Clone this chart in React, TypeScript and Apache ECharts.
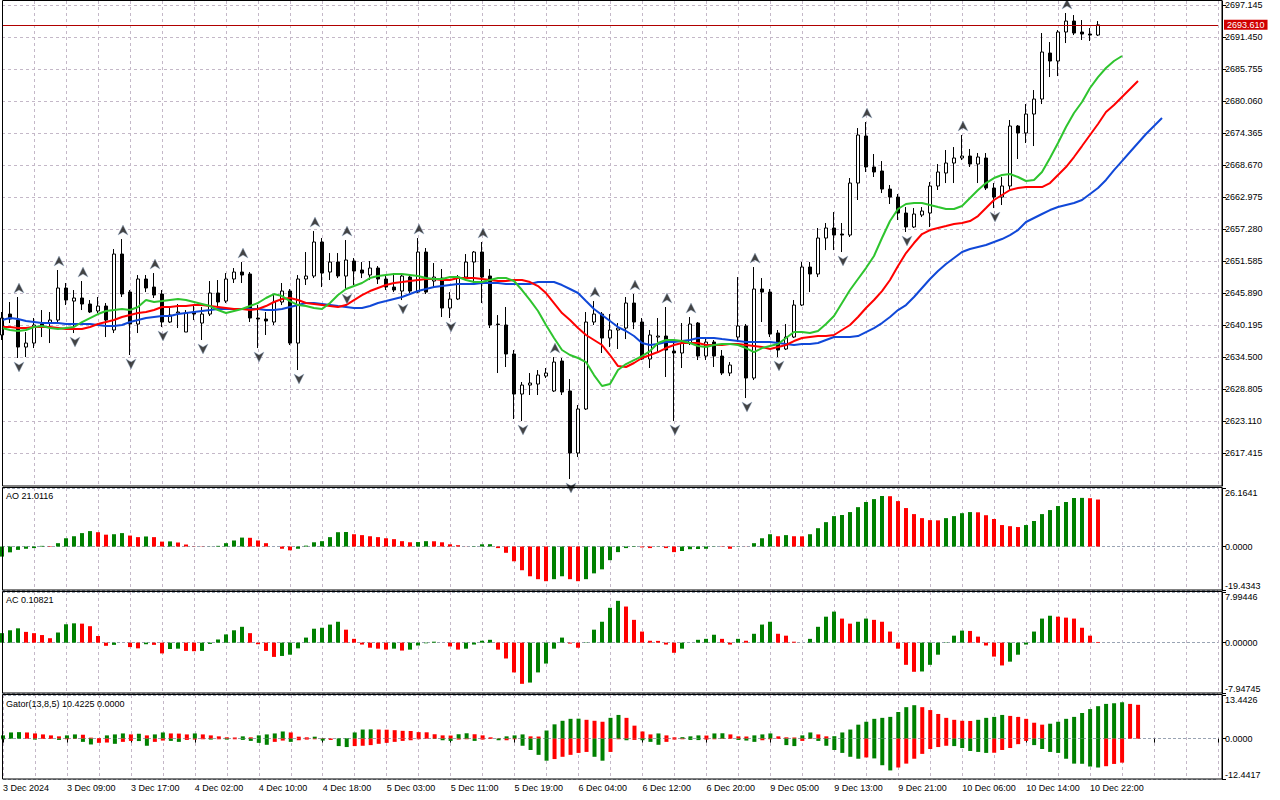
import React, { useEffect, useRef } from 'react';
import * as echarts from 'echarts';

// ---------- data ----------
const sessionDays = ['3 Dec', '4 Dec', '5 Dec', '6 Dec', '9 Dec', '10 Dec'];
const futureSlots = 15;
const xTickLabels = ['3 Dec 2024', '3 Dec 09:00', '3 Dec 17:00', '4 Dec 02:00', '4 Dec 10:00', '4 Dec 18:00', '5 Dec 03:00', '5 Dec 11:00', '5 Dec 19:00', '6 Dec 04:00', '6 Dec 12:00', '6 Dec 20:00', '9 Dec 05:00', '9 Dec 13:00', '9 Dec 21:00', '10 Dec 06:00', '10 Dec 14:00', '10 Dec 22:00'];
const priceTicks = [2617.415, 2623.11, 2628.805, 2634.5, 2640.195, 2645.89, 2651.585, 2657.28, 2662.975, 2668.67, 2674.365, 2680.06, 2685.755, 2691.45, 2697.145];
const lastPrice = 2693.61;

const opens = [2638.45, 2642.18, 2641.11, 2636.31, 2637.02, 2640.40, 2640.58, 2641.11, 2646.81, 2644.49,
  2645.03, 2643.96, 2642.72, 2643.60, 2639.34, 2652.85, 2646.09, 2640.40, 2648.41, 2646.98,
  2645.74, 2640.76, 2642.36, 2638.98, 2642.54, 2640.58, 2642.18, 2645.92, 2644.49, 2648.41,
  2649.65, 2649.30, 2641.47, 2641.29, 2640.76, 2644.32, 2646.27, 2637.02, 2648.41, 2648.94,
  2654.99, 2649.65, 2651.43, 2648.94, 2651.61, 2650.01, 2649.12, 2650.36, 2648.41, 2646.98,
  2646.27, 2648.76, 2646.09, 2653.21, 2648.05, 2648.58, 2643.25, 2644.85, 2648.76, 2651.43,
  2653.21, 2648.94, 2640.40, 2640.23, 2635.07, 2627.95, 2629.55, 2629.73, 2631.15, 2628.49,
  2633.82, 2628.49, 2617.46, 2625.29, 2640.76, 2642.18, 2637.91, 2639.34, 2639.69, 2644.14,
  2640.76, 2634.18, 2638.09, 2638.27, 2635.60, 2635.25, 2637.02, 2640.58, 2634.71, 2637.20,
  2634.71, 2631.69, 2638.09, 2640.05, 2630.80, 2646.63, 2646.09, 2638.80, 2635.96, 2638.09,
  2643.78, 2650.54, 2649.30, 2655.70, 2657.48, 2656.41, 2656.23, 2665.48, 2673.84, 2668.33,
  2667.62, 2664.41, 2662.99, 2660.15, 2657.66, 2659.79, 2660.15, 2664.95, 2667.26, 2669.04,
  2669.93, 2670.28, 2668.86, 2669.93, 2664.59, 2662.99, 2664.95, 2675.62, 2674.38, 2677.75,
  2680.42, 2688.60, 2687.18, 2692.34, 2694.29, 2692.34, 2691.98, 2691.80];

const closes = [2641.47, 2641.29, 2636.31, 2637.02, 2640.23, 2639.87, 2641.11, 2646.81, 2644.67, 2645.03,
  2643.96, 2642.54, 2643.60, 2641.11, 2652.85, 2645.74, 2640.40, 2648.41, 2646.81, 2645.56,
  2640.76, 2642.00, 2642.54, 2642.36, 2642.18, 2642.18, 2645.92, 2644.32, 2648.41, 2649.65,
  2649.12, 2641.47, 2641.29, 2640.94, 2644.32, 2646.27, 2637.02, 2648.41, 2648.94, 2654.99,
  2649.47, 2651.43, 2648.94, 2651.79, 2649.83, 2649.47, 2650.36, 2648.41, 2646.98, 2646.45,
  2648.94, 2646.27, 2653.21, 2646.09, 2648.76, 2643.25, 2644.85, 2648.76, 2651.43, 2653.21,
  2648.76, 2640.23, 2640.30, 2635.07, 2627.95, 2629.55, 2629.91, 2631.33, 2631.69, 2633.64,
  2628.31, 2617.46, 2625.29, 2640.76, 2642.18, 2637.91, 2639.34, 2639.69, 2644.14, 2640.76,
  2634.18, 2638.45, 2638.27, 2635.78, 2635.25, 2637.02, 2640.40, 2634.71, 2637.20, 2634.71,
  2631.69, 2633.11, 2640.05, 2630.80, 2646.63, 2646.09, 2638.62, 2635.78, 2638.09, 2643.78,
  2650.54, 2649.30, 2655.70, 2657.48, 2656.23, 2656.23, 2665.48, 2674.02, 2668.33, 2667.44,
  2664.41, 2662.99, 2660.15, 2657.66, 2659.97, 2660.50, 2664.95, 2667.44, 2669.04, 2669.93,
  2670.28, 2668.86, 2670.11, 2664.59, 2662.99, 2664.95, 2675.62, 2674.38, 2677.75, 2680.42,
  2688.78, 2687.18, 2692.34, 2694.29, 2692.16, 2691.98, 2691.80, 2693.61];

const highs = [2642.54, 2644.32, 2645.21, 2638.98, 2641.47, 2642.89, 2642.54, 2650.01, 2647.70, 2646.45,
  2648.05, 2644.67, 2645.21, 2644.14, 2653.74, 2655.52, 2646.45, 2649.12, 2649.12, 2649.47,
  2646.45, 2643.43, 2643.96, 2642.89, 2643.78, 2643.43, 2648.05, 2648.23, 2649.47, 2650.36,
  2651.43, 2649.65, 2643.78, 2642.54, 2645.56, 2647.70, 2646.63, 2649.12, 2653.21, 2656.94,
  2655.70, 2653.03, 2653.03, 2655.34, 2652.14, 2651.43, 2651.61, 2650.72, 2648.94, 2649.47,
  2649.47, 2649.12, 2655.70, 2653.92, 2651.25, 2650.19, 2646.09, 2649.12, 2652.85, 2653.39,
  2654.99, 2650.19, 2642.00, 2643.43, 2635.78, 2630.09, 2631.69, 2632.22, 2632.58, 2634.53,
  2634.36, 2630.62, 2626.00, 2642.54, 2644.49, 2642.54, 2642.18, 2640.58, 2645.21, 2645.74,
  2641.47, 2639.34, 2641.47, 2643.43, 2637.56, 2640.58, 2641.65, 2640.76, 2638.09, 2637.56,
  2635.78, 2633.64, 2648.76, 2640.40, 2650.54, 2648.58, 2646.63, 2639.34, 2640.40, 2644.67,
  2651.43, 2651.43, 2657.48, 2658.37, 2660.32, 2658.37, 2666.37, 2675.26, 2676.33, 2670.64,
  2669.39, 2665.13, 2663.53, 2661.21, 2661.03, 2661.21, 2665.66, 2668.86, 2671.35, 2671.88,
  2674.02, 2671.53, 2670.82, 2670.82, 2665.48, 2666.55, 2676.69, 2675.80, 2679.53, 2682.02,
  2692.16, 2690.56, 2692.69, 2695.72, 2695.36, 2694.47, 2693.05, 2694.29];

const lows = [2637.56, 2640.58, 2634.36, 2634.53, 2636.13, 2638.09, 2637.02, 2640.76, 2643.78, 2638.80,
  2642.89, 2642.36, 2642.36, 2638.09, 2638.80, 2645.21, 2634.89, 2638.80, 2646.09, 2645.03,
  2639.87, 2640.58, 2639.69, 2638.98, 2641.11, 2637.56, 2641.83, 2643.60, 2644.14, 2647.70,
  2647.70, 2640.76, 2636.13, 2638.45, 2640.23, 2643.78, 2636.67, 2632.22, 2647.34, 2648.58,
  2646.98, 2648.23, 2648.58, 2646.45, 2647.34, 2648.58, 2648.23, 2647.52, 2646.45, 2646.09,
  2644.67, 2645.92, 2645.92, 2645.74, 2646.81, 2641.65, 2641.47, 2644.67, 2648.58, 2647.34,
  2644.14, 2639.69, 2631.69, 2632.76, 2623.51, 2623.15, 2627.78, 2627.78, 2630.80, 2628.31,
  2627.78, 2612.84, 2616.75, 2625.11, 2640.23, 2635.25, 2636.31, 2635.96, 2637.73, 2639.51,
  2634.00, 2632.58, 2635.25, 2630.98, 2623.15, 2632.58, 2636.67, 2634.00, 2634.00, 2632.76,
  2631.33, 2631.15, 2637.20, 2627.24, 2630.44, 2640.76, 2638.09, 2634.53, 2635.78, 2637.91,
  2643.60, 2646.09, 2648.76, 2653.56, 2653.56, 2653.21, 2655.88, 2662.46, 2667.44, 2666.55,
  2663.70, 2661.75, 2658.90, 2656.77, 2657.48, 2659.43, 2657.66, 2664.24, 2665.48, 2665.48,
  2669.57, 2668.33, 2665.48, 2664.24, 2661.03, 2661.57, 2664.24, 2669.75, 2672.60, 2672.06,
  2679.53, 2684.33, 2684.51, 2690.38, 2691.80, 2690.92, 2690.74, 2691.63];

// Alligator lines as displayed (already shifted forward: jaw 8, teeth 5, lips 3)
const jaw = [2641.11, 2641.47, 2641.29, 2640.94, 2640.76, 2640.58, 2640.58, 2640.58, 2640.40, 2640.40,
  2640.40, 2640.40, 2640.23, 2640.05, 2640.05, 2640.23, 2640.76, 2641.11, 2641.47, 2641.65,
  2641.83, 2641.83, 2642.18, 2642.36, 2642.54, 2642.72, 2642.89, 2643.07, 2643.07, 2643.07,
  2643.07, 2643.07, 2643.07, 2642.89, 2642.89, 2643.07, 2643.43, 2643.78, 2644.14, 2644.14,
  2643.96, 2643.78, 2643.60, 2643.43, 2643.25, 2643.25, 2643.60, 2644.14, 2644.49, 2644.85,
  2645.21, 2645.74, 2646.27, 2646.63, 2646.98, 2647.16, 2647.34, 2647.52, 2647.52, 2647.52,
  2647.70, 2647.70, 2647.70, 2647.52, 2647.52, 2647.52, 2647.52, 2647.87, 2647.87, 2647.87,
  2647.34, 2646.63, 2645.92, 2644.49, 2643.07, 2642.00, 2640.94, 2639.87, 2639.16, 2638.27,
  2637.02, 2636.67, 2636.85, 2637.20, 2637.20, 2637.38, 2637.56, 2637.91, 2637.91, 2637.91,
  2637.73, 2637.56, 2637.38, 2637.20, 2637.20, 2637.20, 2637.20, 2637.02, 2636.85, 2636.67,
  2636.85, 2636.85, 2637.02, 2637.56, 2638.09, 2638.09, 2638.09, 2638.27, 2638.98, 2639.69,
  2640.58, 2641.65, 2642.89, 2643.78, 2645.21, 2646.81, 2648.41, 2649.83, 2651.07, 2652.14,
  2653.21, 2653.74, 2654.10, 2654.45, 2654.99, 2655.52, 2656.23, 2657.12, 2658.55, 2659.26,
  2659.97, 2660.68, 2661.21, 2661.57, 2661.92, 2662.46, 2663.53, 2664.59, 2666.02, 2667.79,
  2669.39, 2671.00, 2672.60, 2674.20, 2675.62, 2677.04];

const teeth = [2639.87, 2639.87, 2639.69, 2639.69, 2639.87, 2639.87, 2639.87, 2639.69, 2639.51, 2639.51,
  2639.51, 2639.87, 2640.40, 2640.76, 2641.11, 2641.65, 2642.00, 2642.36, 2642.54, 2642.89,
  2643.43, 2643.43, 2643.60, 2643.60, 2643.78, 2643.78, 2643.60, 2643.43, 2643.25, 2643.07,
  2643.07, 2642.89, 2643.07, 2643.60, 2644.32, 2644.85, 2645.03, 2644.67, 2644.14, 2643.96,
  2643.78, 2643.60, 2643.43, 2643.78, 2644.67, 2645.56, 2646.27, 2646.81, 2647.34, 2647.70,
  2647.87, 2648.05, 2648.23, 2648.41, 2648.41, 2648.23, 2648.23, 2648.58, 2648.58, 2648.58,
  2648.41, 2648.23, 2648.05, 2648.05, 2648.23, 2648.23, 2647.87, 2647.16, 2645.92, 2644.14,
  2642.36, 2641.11, 2639.69, 2638.45, 2637.56, 2636.67, 2634.89, 2632.93, 2632.76, 2633.47,
  2634.36, 2634.89, 2635.42, 2636.13, 2636.67, 2637.02, 2637.02, 2637.02, 2636.67, 2636.67,
  2636.67, 2636.85, 2636.85, 2636.67, 2636.49, 2636.31, 2635.96, 2636.31, 2636.67, 2637.38,
  2637.91, 2638.09, 2638.27, 2638.27, 2638.45, 2639.34, 2640.23, 2641.65, 2643.25, 2644.67,
  2646.27, 2648.23, 2650.72, 2653.03, 2654.81, 2656.41, 2657.12, 2657.48, 2657.83, 2658.19,
  2658.37, 2658.72, 2659.61, 2661.03, 2662.46, 2663.35, 2664.24, 2664.59, 2664.77, 2664.77,
  2664.77, 2665.48, 2666.90, 2668.33, 2670.11, 2672.06, 2674.02, 2675.98, 2678.11, 2679.35,
  2680.78, 2682.20, 2683.62];

const lips = [2639.69, 2639.34, 2639.16, 2639.34, 2639.87, 2640.05, 2639.69, 2639.51, 2639.69, 2639.87,
  2640.76, 2641.47, 2642.18, 2642.72, 2642.89, 2643.07, 2642.89, 2643.43, 2644.67, 2644.32,
  2644.49, 2644.67, 2644.85, 2644.67, 2644.32, 2643.96, 2643.60, 2642.89, 2642.36, 2642.72,
  2643.07, 2643.60, 2644.14, 2645.03, 2645.74, 2645.38, 2644.49, 2643.78, 2643.60, 2643.25,
  2643.07, 2644.14, 2645.56, 2646.63, 2647.16, 2647.70, 2648.58, 2648.94, 2649.12, 2649.30,
  2649.30, 2649.12, 2648.94, 2648.58, 2648.41, 2648.41, 2648.76, 2648.76, 2648.23, 2647.87,
  2647.87, 2648.23, 2648.58, 2648.58, 2648.05, 2646.45, 2644.67, 2642.72, 2640.23, 2637.91,
  2635.78, 2634.89, 2634.36, 2633.64, 2631.33, 2629.38, 2629.73, 2632.22, 2633.29, 2634.00,
  2634.71, 2635.60, 2637.02, 2637.56, 2637.56, 2637.38, 2637.02, 2636.49, 2636.31, 2636.67,
  2636.85, 2636.85, 2636.67, 2636.13, 2635.42, 2636.13, 2636.49, 2636.85, 2637.91, 2638.98,
  2638.98, 2638.80, 2639.16, 2640.40, 2641.83, 2644.14, 2646.45, 2648.41, 2650.36, 2652.50,
  2655.70, 2658.72, 2660.86, 2661.75, 2661.92, 2661.92, 2661.57, 2661.21, 2660.86, 2660.86,
  2661.39, 2662.81, 2664.24, 2665.48, 2666.37, 2666.90, 2667.08, 2666.55, 2665.84, 2666.02,
  2667.44, 2669.93, 2672.60, 2675.44, 2677.93, 2679.89, 2682.38, 2684.33, 2685.94, 2687.18,
  2688.07];

const fractalUpBars = [2, 7, 10, 15, 19, 30, 39, 43, 52, 60, 69, 74, 79, 83, 86, 94, 108, 120, 133];
const fractalDownBars = [2, 9, 16, 20, 25, 32, 37, 43, 50, 56, 65, 71, 84, 93, 97, 105, 113, 124];

const aoValues = [-4.5, -2.6, -1.5, -1.0, -0.7, 0.3, 0.2, 1.5, 3.7, 4.6,
  6.0, 6.9, 6.4, 5.3, 5.5, 6.0, 4.9, 4.2, 4.5, 4.2,
  2.2, 2.3, 1.8, 0.9, 0.1, -0.1, 0.05, 0.3, 1.5, 2.7,
  4.0, 3.9, 2.7, 1.5, 0.0, -1.0, -1.7, -1.0, 0.4, 1.9,
  2.4, 4.2, 6.4, 6.5, 5.5, 5.1, 4.6, 4.2, 3.7, 3.3,
  2.4, 1.9, 2.0, 2.4, 2.35, 1.9, 1.0, 0.6, 0.05, 0.15,
  1.0, 1.05, -0.7, -2.8, -6.6, -10.6, -13.3, -14.6, -15.5, -14.6,
  -13.3, -14.6, -15.5, -14.6, -12.0, -10.2, -6.1, -2.5, -0.7, -0.2,
  -0.4, -0.7, -0.1, -0.7, -2.5, -2.0, -1.2, -1.1, -1.0, -0.1,
  -0.15, -1.0, 0.1, 0.05, 1.5, 3.7, 5.5, 4.6, 5.1, 4.6,
  4.55, 5.5, 8.2, 10.9, 13.6, 14.1, 15.4, 17.6, 19.9, 21.2,
  22.6, 22.5, 20.3, 17.2, 14.5, 12.7, 11.8, 11.7, 12.7, 13.6,
  14.9, 15.4, 15.3, 14.0, 12.3, 9.6, 9.1, 8.7, 9.6, 11.4,
  14.5, 16.3, 18.1, 19.9, 21.7, 21.75, 21.6, 21.0116];

const acValues = [1.5, 1.95, 2.26, 1.7, 1.5, 1.2, 0.7, 1.6, 2.9, 3.05,
  3.0, 2.6, 1.05, -0.5, -0.35, 0.0, -0.7, -0.9, -0.25, -0.35,
  -1.7, -1.0, -0.95, -1.3, -1.35, -1.3, -0.2, 0.5, 1.3, 1.95,
  2.5, 1.5, -0.25, -1.3, -2.25, -2.1, -1.9, -0.9, 0.8, 2.2,
  2.35, 2.85, 3.3, 2.05, 0.6, -0.3, -0.8, -0.95, -1.1, -0.95,
  -1.25, -1.1, -0.45, -0.1, 0.15, 0.0, -0.6, -1.1, -0.95, -0.3,
  0.3, 0.45, -1.1, -2.5, -4.7, -6.5, -6.3, -4.7, -3.3, -0.95,
  0.8, -0.15, -0.8, 0.05, 2.05, 3.3, 5.5, 6.6, 5.7, 3.6,
  1.75, 0.3, 0.28, -0.3, -1.6, -0.95, 0.0, 0.45, 0.6, 1.25,
  0.6, -0.3, 0.6, 0.3, 1.4, 2.85, 3.3, 1.4, 1.1, 0.15,
  0.0, 0.6, 2.5, 4.1, 4.9, 3.8, 3.0, 3.3, 3.8, 3.6,
  3.3, 1.75, -0.95, -3.5, -4.6, -4.55, -3.5, -1.9, 0.05, 1.1,
  1.9, 1.85, 0.95, -0.45, -2.2, -3.6, -3.0, -1.9, -0.3, 1.75,
  3.8, 4.25, 4.1, 3.95, 3.8, 2.35, 1.1, 0.10821];

const gatorUp = [1.0, 1.9, 2.0, 1.9, 1.6, 1.3, 1.0, 0.7, 1.0, 1.3,
  1.2, 0.3, 0.2, 1.0, 1.3, 1.6, 1.3, 1.5, 1.0, 1.3,
  1.9, 1.6, 1.55, 1.3, 1.6, 1.3, 1.0, 0.7, 0.4, 0.35,
  0.7, 0.4, 1.0, 1.3, 1.6, 2.2, 1.9, 0.6, 0.4, 0.6,
  0.1, 0.05, 0.1, 0.15, 1.9, 2.8, 2.85, 2.8, 2.75, 2.6,
  2.4, 2.35, 2.0, 1.95, 1.35, 1.0, 0.95, 1.35, 1.65, 1.35,
  1.0, 0.4, 0.1, 0.7, 1.0, 1.3, 0.7, 0.65, 2.5, 4.4,
  5.5, 6.1, 6.15, 5.8, 5.5, 5.2, 6.4, 7.3, 6.4, 4.0,
  2.2, 1.3, 1.6, 1.0, 0.4, 0.45, 0.7, 1.0, 0.95, 1.6,
  1.65, 1.3, 0.7, 0.65, 1.0, 1.3, 1.6, 0.7, 0.4, 0.35,
  1.0, 1.9, 1.3, 0.7, 0.75, 1.9, 2.8, 4.3, 5.2, 6.1,
  6.4, 6.7, 8.2, 9.7, 10.3, 9.7, 8.8, 7.6, 6.4, 5.8,
  5.5, 5.45, 5.8, 6.4, 6.7, 7.3, 7.0, 6.7, 6.1, 4.9,
  4.3, 4.6, 5.2, 6.1, 6.7, 7.9, 9.1, 10.0, 10.7, 10.9,
  11.2, 10.7, 10.4225];

const gatorDown = [-0.2, 0, 0, 0, -0.3, -0.1, -0.1, -0.4, -0.2, -0.1,
  -1.0, -1.8, -1.3, -1.2, -1.6, -1.0, -0.7, -0.75, -2.2, -1.0,
  -0.6, -0.7, -1.0, -0.4, -0.3, -0.2, -0.3, -0.2, -0.3, -0.2,
  -0.4, -0.7, -1.3, -1.9, -1.0, -0.6, -1.0, -0.5, -0.3, -0.2,
  -0.6, -0.4, -2.3, -2.6, -2.3, -2.2, -2.0, -1.6, -1.3, -1.0,
  -0.7, -0.5, -0.2, 0, -0.1, -0.5, -0.7, -0.3, -0.2, -0.7,
  -0.3, -0.1, -0.5, -0.5, -0.2, -2.2, -3.5, -5.0, -6.8, -6.3,
  -5.6, -5.0, -4.4, -4.1, -5.6, -6.8, -4.1, -0.2, -0.5, -0.4,
  -0.5, -1.0, -1.9, -1.0, -0.3, -0.2, -0.4, -0.45, -0.3, -0.2,
  -0.1, -0.05, -0.4, -0.6, -1.0, -0.5, -0.2, -0.1, -2.0, -2.3,
  -0.7, -0.1, -0.7, -2.2, -3.5, -4.4, -5.6, -6.2, -5.8, -6.1,
  -8.2, -9.8, -8.9, -7.7, -6.2, -4.7, -3.2, -2.6, -2.2, -2.3,
  -2.9, -3.8, -4.1, -4.4, -4.35, -3.5, -2.9, -1.7, -0.7, -2.0,
  -3.2, -4.1, -4.4, -6.2, -7.7, -7.75, -8.6, -8.9, -8.5, -7.8,
  -7.4];

// ---------- styling ----------
const FONT = '"Liberation Sans", Arial, sans-serif';
const GREEN = '#008000';
const RED = '#ff0000';
const GRID_LINE = { show: true, lineStyle: { color: '#c4b8c8', type: [3, 3] as any, width: 1 } };
const ZERO_LINE = { show: true, lineStyle: { color: '#9aa4b4', type: [3, 2] as any, width: 1 } };
const UP_ARROW = 'path://M5 0 L10 10 L5 7 L0 10 Z';
const DOWN_ARROW = 'path://M0 0 L5 3 L10 0 L5 10 Z';

const GRID_LEFT = 2;
const GRID_RIGHT = 62;
const panels = [
  { top: 1, height: 485 },
  { top: 488, height: 102 },
  { top: 592, height: 101 },
  { top: 695, height: 84 },
];

function buildCategories(): string[] {
  const cats: string[] = [];
  sessionDays.forEach((d) => {
    for (let h = 1; h <= 23; h++) cats.push(`${d} ${String(h).padStart(2, '0')}:00`);
  });
  for (let k = 1; k <= futureSlots; k++) cats.push(`+${k}`);
  return cats;
}

function subYAxis(gridIndex: number, min: number, max: number, decimals: number) {
  const ticks = [min, 0, max];
  return {
    type: 'value', gridIndex, position: 'right', offset: 4, min, max,
    axisLine: { show: true, lineStyle: { color: '#000', width: 1 } },
    axisTick: { show: true, length: 4, customValues: ticks, lineStyle: { color: '#000' } },
    axisLabel: {
      customValues: ticks, margin: 3, color: '#000', fontSize: 9, fontFamily: FONT,
      formatter: (v: number) => {
        const s = v.toFixed(decimals);
        if (v === max) return `{top|${s}}`;
        if (v === min) return `{bot|${s}}`;
        return `{mid|${s}}`;
      },
      rich: {
        top: { padding: [9, 0, 0, 0], lineHeight: 11, fontSize: 9, fontFamily: FONT, color: '#000' },
        bot: { padding: [0, 0, 9, 0], lineHeight: 11, fontSize: 9, fontFamily: FONT, color: '#000' },
        mid: { lineHeight: 11, fontSize: 9, fontFamily: FONT, color: '#000' },
      },
    },
    splitLine: ZERO_LINE,
  };
}

function buildOption() {
  const categories = buildCategories();
  const xAxes = panels.map((_, i) => {
    const last = i === panels.length - 1;
    return {
      type: 'category', gridIndex: i, data: categories, boundaryGap: false,
      axisLine: { show: false },
      axisTick: last ? { show: true, interval: 7, length: 4, lineStyle: { color: '#000' } } : { show: false },
      axisLabel: last
        ? {
          show: true, interval: (idx: number) => idx % 8 === 0 && idx / 8 < xTickLabels.length,
          formatter: (_v: string, idx: number) => xTickLabels[idx / 8] ?? '',
          align: 'left', margin: 4, color: '#000', fontSize: 9, fontFamily: FONT,
        }
        : { show: false },
      splitLine: { ...GRID_LINE, interval: 3 },
    };
  });

  const colorBy = (arr: number[], grow: (a: number, b: number) => boolean) =>
    arr.map((v, i) => ({ value: v, itemStyle: { color: i === 0 || grow(v, arr[i - 1]) ? GREEN : RED } }));

  const lineSeries = (data: number[], color: string) => ({
    type: 'line', xAxisIndex: 0, yAxisIndex: 0, data, symbol: 'none', showSymbol: false,
    lineStyle: { color, width: 2 }, itemStyle: { color }, z: 3, silent: true,
  });

  return {
    animation: false,
    backgroundColor: '#ffffff',
    grid: panels.map((p) => ({ left: GRID_LEFT, right: GRID_RIGHT, top: p.top, height: p.height })),
    xAxis: xAxes,
    yAxis: [
      {
        type: 'value', gridIndex: 0, position: 'right', offset: 4,
        min: 2611.595, max: 2697.856,
        axisLine: { show: true, lineStyle: { color: '#000', width: 1 } },
        axisTick: { show: true, length: 4, customValues: priceTicks, lineStyle: { color: '#000' } },
        axisLabel: {
          customValues: priceTicks, margin: 3, color: '#000', fontSize: 9, fontFamily: FONT,
          formatter: (v: number) => v.toFixed(3),
        },
        splitLine: GRID_LINE,
      },
      subYAxis(1, -19.4343, 26.1641, 4),
      subYAxis(2, -7.94745, 7.99446, 5),
      subYAxis(3, -12.4417, 13.4426, 4),
    ],
    series: [
      {
        type: 'candlestick', xAxisIndex: 0, yAxisIndex: 0, barWidth: 4,
        data: opens.map((o, i) => [o, closes[i], lows[i], highs[i]]),
        itemStyle: { color: '#ffffff', color0: '#000000', borderColor: '#000000', borderColor0: '#000000', borderWidth: 1 },
        markLine: {
          silent: true, symbol: ['none', 'none'], animation: false,
          data: [{ yAxis: lastPrice }],
          lineStyle: { color: '#b00000', width: 1, type: 'solid' },
          label: {
            show: true, position: 'end', distance: 6, formatter: lastPrice.toFixed(3),
            color: '#ffffff', backgroundColor: '#d00000', padding: [1, 3, 0, 3],
            fontSize: 9, fontFamily: FONT,
          },
        },
      },
      lineSeries(jaw, '#1048d8'),
      lineSeries(teeth, '#ff0000'),
      lineSeries(lips, '#2ec42e'),
      {
        type: 'scatter', xAxisIndex: 0, yAxisIndex: 0, silent: true, z: 4,
        data: fractalUpBars.map((i) => [i, highs[i]]),
        symbol: UP_ARROW, symbolSize: [10, 10], symbolOffset: [1, -9],
        itemStyle: { color: '#141414', borderColor: '#8fa8c8', borderWidth: 0.5 },
      },
      {
        type: 'scatter', xAxisIndex: 0, yAxisIndex: 0, silent: true, z: 4,
        data: fractalDownBars.map((i) => [i, lows[i]]),
        symbol: DOWN_ARROW, symbolSize: [10, 10], symbolOffset: [1, 9],
        itemStyle: { color: '#141414', borderColor: '#8fa8c8', borderWidth: 0.5 },
      },
      {
        type: 'bar', xAxisIndex: 1, yAxisIndex: 1, barWidth: 4, silent: true,
        data: colorBy(aoValues, (a, b) => a > b),
      },
      {
        type: 'bar', xAxisIndex: 2, yAxisIndex: 2, barWidth: 4, silent: true,
        data: colorBy(acValues, (a, b) => a > b),
      },
      {
        type: 'bar', xAxisIndex: 3, yAxisIndex: 3, barWidth: 4, barGap: '-100%', silent: true,
        data: colorBy(gatorUp, (a, b) => a > b),
      },
      {
        type: 'bar', xAxisIndex: 3, yAxisIndex: 3, barWidth: 4, barGap: '-100%', silent: true,
        data: colorBy(gatorDown, (a, b) => a < b),
      },
    ],
    graphic: [
      ...[
        { y: 0.5, h: 485.5 },
        { y: 487.5, h: 102.5 },
        { y: 591.5, h: 101.5 },
        { y: 694.5, h: 84.5 },
      ].map((r) => ({
        type: 'rect', silent: true, z: 100,
        shape: { x: 2.5, y: r.y, width: 1219.5, height: r.h },
        style: { fill: 'none', stroke: '#000', lineWidth: 1 },
      })),
      {
        type: 'text', x: 6, y: 491, z: 100, silent: true,
        style: { text: `AO ${aoValues[aoValues.length - 1].toFixed(4)}`, fill: '#000', font: `9px ${FONT}`, verticalAlign: 'top' },
      },
      {
        type: 'text', x: 6, y: 595, z: 100, silent: true,
        style: { text: `AC ${acValues[acValues.length - 1].toFixed(5)}`, fill: '#000', font: `9px ${FONT}`, verticalAlign: 'top' },
      },
      {
        type: 'text', x: 6, y: 699, z: 100, silent: true,
        style: { text: `Gator(13,8,5) ${gatorUp[gatorUp.length - 1].toFixed(4)} 0.0000`, fill: '#000', font: `9px ${FONT}`, verticalAlign: 'top' },
      },
    ],
  };
}

export default function App() {
  const ref = useRef<HTMLDivElement>(null);
  useEffect(() => {
    if (!ref.current) return;
    const chart = echarts.init(ref.current, null, { renderer: 'svg' });
    chart.setOption(buildOption() as any);
    return () => chart.dispose();
  }, []);
  return (
    <div
      ref={ref}
      style={{ position: 'fixed', left: 0, top: 0, width: 1280, height: 800, background: '#ffffff' }}
    />
  );
}
